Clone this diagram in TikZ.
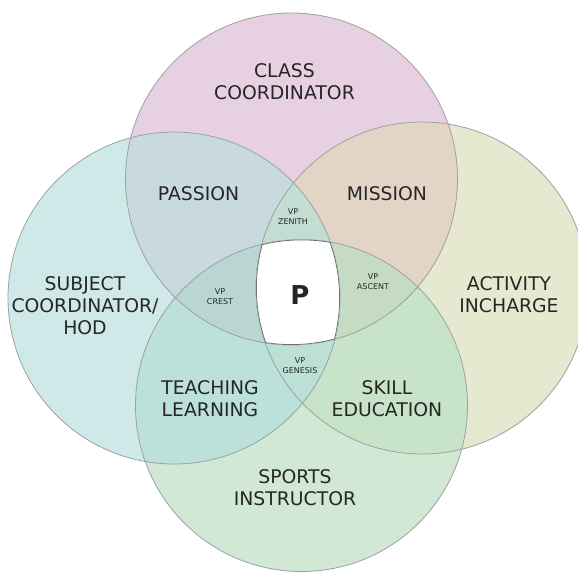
\documentclass[tikz,border=0pt]{standalone}
\usepackage{fontspec}
\setmainfont{DejaVu Sans}
\definecolor{txt}{RGB}{38,38,38}
\definecolor{pinkc}{RGB}{232,208,227}
\definecolor{cyanc}{RGB}{207,232,232}
\definecolor{yelc}{RGB}{230,233,207}
\definecolor{grnc}{RGB}{209,232,213}
\definecolor{passc}{RGB}{201,217,224}
\definecolor{missc}{RGB}{226,213,198}
\definecolor{teachc}{RGB}{188,225,218}
\definecolor{skillc}{RGB}{199,227,200}
\definecolor{zenc}{RGB}{196,221,211}
\definecolor{crestc}{RGB}{185,214,211}
\definecolor{ascc}{RGB}{197,219,195}
\definecolor{genc}{RGB}{188,224,214}
\definecolor{ringc}{RGB}{155,162,162}
\definecolor{darkring}{RGB}{110,112,112}
\begin{document}
\begin{tikzpicture}[x=1pt,y=-1pt,
  lbl/.style={font=\fontsize{18.8}{22}\selectfont, text=txt, align=center, inner sep=0pt},
  small/.style={font=\fontsize{8}{10}\selectfont, text=txt, align=center, inner sep=0pt},
  ring/.style={draw=ringc, line width=0.8pt}]
\useasboundingbox (0,0) rectangle (578,573);
\def\CT{(291.5,179) circle (166pt)}
\def\CL{(174,298) circle (166pt)}
\def\CR{(422,288) circle (166pt)}
\def\CB{(301.5,405.5) circle (166pt)}
% single circles
\fill[pinkc] \CT;
\fill[cyanc] \CL;
\fill[yelc] \CR;
\fill[grnc] \CB;
% pairs
\begin{scope}\clip \CT; \fill[passc] \CL; \end{scope}
\begin{scope}\clip \CT; \fill[missc] \CR; \end{scope}
\begin{scope}\clip \CL; \fill[teachc] \CB; \end{scope}
\begin{scope}\clip \CR; \fill[skillc] \CB; \end{scope}
% triples
\begin{scope}\clip \CT; \clip \CL; \fill[zenc] \CR; \end{scope}
\begin{scope}\clip \CT; \clip \CL; \fill[crestc] \CB; \end{scope}
\begin{scope}\clip \CT; \clip \CR; \fill[ascc] \CB; \end{scope}
\begin{scope}\clip \CL; \clip \CR; \fill[genc] \CB; \end{scope}
% outlines
\draw[ring] \CT; \draw[ring] \CL; \draw[ring] \CR; \draw[ring] \CB;
% centre
\begin{scope}\clip \CT; \clip \CL; \clip \CR;
  \fill[white] \CB;
  \begin{scope}\clip \CB;
    \draw[darkring, line width=1.6pt] \CT; \draw[darkring, line width=1.6pt] \CL;
    \draw[darkring, line width=1.6pt] \CR; \draw[darkring, line width=1.6pt] \CB;
  \end{scope}
\end{scope}
% labels
\node[lbl] (cc) at (284.5,82) {CLASS\\COORDINATOR};
\node[lbl] (pa) at (198.5,194) {PASSION};
\node[lbl] (mi) at (387,194) {MISSION};
\node[lbl] (sc) at (85,306) {SUBJECT\\COORDINATOR/\\HOD};
\node[lbl] (ai) at (509,295) {ACTIVITY\\INCHARGE};
\node[lbl] (tl) at (210,399) {TEACHING\\LEARNING};
\node[lbl] (se) at (387,399) {SKILL\\EDUCATION};
\node[lbl] (si) at (295,487.5) {SPORTS\\INSTRUCTOR};
\node[small] (vz) at (293,217) {VP\\ZENITH};
\node[small] (vc) at (220,297) {VP\\CREST};
\node[small] (va) at (373,282) {VP\\ASCENT};
\node[small] (vg) at (300,366) {VP\\GENESIS};
\node[inner sep=0pt, text=txt, font=\fontsize{26}{30}\selectfont\bfseries] (p) at (300,295.5) {P};
\end{tikzpicture}
\end{document}
